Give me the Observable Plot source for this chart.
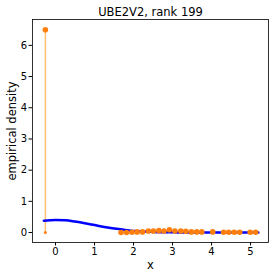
<!DOCTYPE html>
<html><head><meta charset="utf-8">
<script src="https://cdn.jsdelivr.net/npm/d3@7"></script>
<script src="https://cdn.jsdelivr.net/npm/@observablehq/plot@0.6"></script>
<style>body{margin:0;background:#fff;font-family:"DejaVu Sans",sans-serif}</style>
</head><body><div id="chart"></div>
<script>
const titleText = "UBE2V2, rank 199";
const xTicks = [0, 1, 2, 3, 4, 5];
const yTicks = [0, 1, 2, 3, 4, 5, 6];
// spike (point mass)
const spikeX = [-0.26];
const spikeTop = [6.5];
// empirical density points
const ptX = [1.68, 1.82, 1.96, 2.09, 2.23, 2.38, 2.51, 2.65, 2.78, 2.92, 3.06, 3.21, 3.34, 3.48, 3.62, 3.75, 4.03, 4.31, 4.44, 4.58, 4.72, 4.99, 5.13];
const ptY = [0.0, 0.0, 0.01, 0.02, 0.02, 0.05, 0.05, 0.06, 0.05, 0.09, 0.05, 0.05, 0.04, 0.02, 0.02, 0.02, 0.02, 0.01, 0.01, 0.01, 0.01, 0.01, 0.01];
// fitted density curve
const curveX = [-0.3, 0, 0.25, 0.5, 0.75, 1, 1.25, 1.5, 1.75, 2, 2.25, 2.5, 3, 3.5, 4, 4.5, 5, 5.2];
const curveY = [0.38, 0.40, 0.39, 0.35, 0.30, 0.24, 0.18, 0.13, 0.09, 0.05, 0.03, 0.02, 0.005, 0.001, 0, 0, 0, 0];

const pts = ptX.map((x, i) => ({x, y: ptY[i]}));
const curve = curveX.map((x, i) => ({x, y: curveY[i]}));
const spikes = spikeX.map((x, i) => ({x, top: spikeTop[i]}));

const chart = Plot.plot({
  width: 277, height: 277,
  marginLeft: 32, marginRight: 9, marginTop: 19, marginBottom: 35,
  style: {fontFamily: "DejaVu Sans, sans-serif", fontSize: "10px", color: "black", background: "white"},
  x: {domain: [-0.59, 5.46], ticks: xTicks, tickFormat: "d", tickSize: 3.5, tickPadding: 2, label: null},
  y: {domain: [-0.32, 6.83], ticks: yTicks, tickFormat: "d", tickSize: 3.5, tickPadding: 2, label: null},
  marks: [
    Plot.ruleX(spikes, {x: "x", y1: 0, y2: "top", stroke: "#ffc070", strokeWidth: 1.5}),
    Plot.line(curve, {x: "x", y: "y", stroke: "#0000ff", strokeWidth: 2.5, curve: "monotone-x"}),
    Plot.dot(pts, {x: "x", y: "y", r: 2.8, fill: "#ff7f0e"}),
    Plot.dot(spikes, {x: "x", y: "top", r: 2.8, fill: "#ff7f0e"}),
    Plot.dot(spikes, {x: "x", y: 0, r: 1.5, fill: "#ff7f0e"}),
    Plot.frame({stroke: "black", strokeWidth: 0.8}),
    Plot.text([titleText], {frameAnchor: "top", lineAnchor: "middle", dy: -7, fontSize: 11.5, fill: "black"}),
    Plot.text(["x"], {frameAnchor: "bottom", lineAnchor: "middle", dy: 23, fontSize: 11.5, fill: "black"}),
    Plot.text(["empirical density"], {frameAnchor: "left", textAnchor: "middle", lineAnchor: "middle", dx: -20, rotate: -90, fontSize: 11.5, fill: "black"})
  ]
});
document.getElementById("chart").appendChild(chart);
</script></body></html>
